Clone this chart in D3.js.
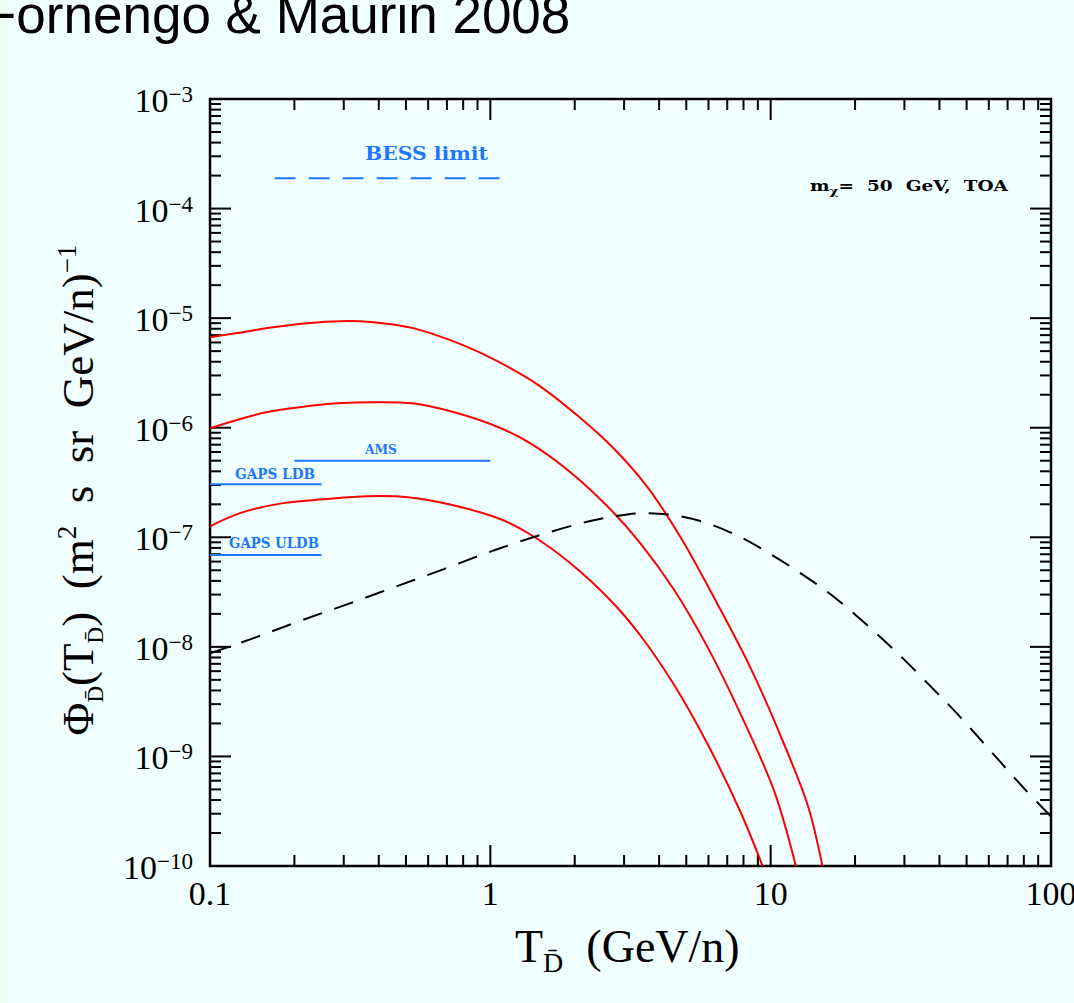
<!DOCTYPE html>
<html>
<head>
<meta charset="utf-8">
<script src="https://cdn.jsdelivr.net/npm/d3@7"></script>
<style>
  html, body { margin: 0; padding: 0; background: #f0ffff; overflow: hidden; }
  svg { display: block; }
  text { white-space: pre; }
</style>
</head>
<body>
<div id="chart"></div>
<script>
// antideuteron flux, m_chi = 50 GeV (three propagation cases) -- T in GeV/n, flux in (m2 s sr GeV/n)^-1
const highT = [0.1, 0.131, 0.160, 0.222, 0.291, 0.382, 0.531, 0.719, 0.944, 1.47, 2.10, 2.75, 3.64, 4.77, 6.47, 8.49, 11.1, 13.6, 15.3];
const highFlux = [6.7e-6, 7.45e-6, 8.11e-6, 9.0e-6, 9.39e-6, 9.19e-6, 8.11e-6, 6.3e-6, 4.69e-6, 2.49e-6, 1.22e-6, 6.5e-7, 2.86e-7, 1.0e-7, 2.44e-8, 6.37e-9, 1.34e-9, 3.49e-10, 1e-10];

const medT = [0.1, 0.131, 0.160, 0.209, 0.286, 0.388, 0.526, 0.738, 1.09, 1.39, 1.93, 2.68, 3.43, 4.51, 5.96, 7.82, 10.3, 12.3];
const medFlux = [9.89e-7, 1.22e-6, 1.39e-6, 1.54e-6, 1.67e-6, 1.71e-6, 1.67e-6, 1.39e-6, 9.89e-7, 7.21e-7, 3.93e-7, 1.8e-7, 8.81e-8, 3.35e-8, 9.89e-9, 2.42e-9, 4.8e-10, 1e-10];

const lowT = [0.1, 0.128, 0.182, 0.254, 0.364, 0.509, 0.738, 1.09, 1.39, 1.93, 2.75, 3.43, 4.51, 5.96, 7.82, 9.36];
const lowFlux = [1.26e-7, 1.66e-7, 2.05e-7, 2.22e-7, 2.37e-7, 2.32e-7, 1.96e-7, 1.46e-7, 1.06e-7, 5.79e-8, 2.49e-8, 1.27e-8, 4.55e-9, 1.29e-9, 3.08e-10, 1e-10];

// secondary (background) flux, dashed
const bgT = [0.1, 0.139, 0.182, 0.241, 0.308, 0.405, 0.531, 0.679, 0.900, 1.07, 1.42, 2.10, 2.75, 3.43, 4.51, 5.96, 7.82, 10, 12.8, 16.0, 19.8, 24.7, 29.9, 37.2, 45.1, 54.8, 66.2, 80.2, 100];
const bgFlux = [8.73e-9, 1.17e-8, 1.51e-8, 1.96e-8, 2.44e-8, 3.15e-8, 4.05e-8, 5.1e-8, 6.7e-8, 7.85e-8, 1.0e-7, 1.34e-7, 1.55e-7, 1.66e-7, 1.59e-7, 1.34e-7, 1.0e-7, 7.0e-8, 4.69e-8, 3.15e-8, 2.02e-8, 1.22e-8, 7.69e-9, 4.36e-9, 2.63e-9, 1.52e-9, 8.81e-10, 5.1e-10, 2.83e-10];

// experimental sensitivities
const expNames = ["AMS", "GAPS LDB", "GAPS ULDB"];
const expTmin = [0.2, 0.1, 0.1];
const expTmax = [1.0, 0.25, 0.25];
const expFlux = [5.0e-7, 3.05e-7, 6.9e-8];
const bessTmin = 0.17, bessTmax = 1.1, bessFlux = 1.89e-4;

const xTickLabels = ["0.1", "1", "10", "100"];

const W = 1074, H = 1003;
const plot = { left: 210, right: 1051, top: 99, bottom: 866 };
const blue = "#1e78ff";
const serif = "'Liberation Serif', 'Times New Roman', serif";
const slab = "'DejaVu Serif', serif";

const svg = d3.select("#chart").append("svg")
  .attr("width", W)
  .attr("height", H);

svg.append("rect").attr("width", W).attr("height", H).attr("fill", "#f0ffff");
svg.append("rect").attr("width", 8).attr("height", H).attr("fill", "#eefdf1");

svg.append("text")
  .attr("x", -16)
  .attr("y", 33)
  .attr("font-family", "'Liberation Sans', Arial, sans-serif")
  .attr("font-size", 53)
  .attr("fill", "#000")
  .text("Fornengo & Maurin 2008");

const x = d3.scaleLog().domain([0.1, 100]).range([plot.left, plot.right]);
const y = d3.scaleLog().domain([1e-10, 1e-3]).range([plot.bottom, plot.top]);

const isMajor = v => Math.abs(Math.log10(v) - Math.round(Math.log10(v))) < 1e-6;

// ticks on all four sides
const ticks = svg.append("g").attr("stroke", "#000").attr("stroke-width", 2);
x.ticks().forEach(t => {
  const len = isMajor(t) ? 21 : 11;
  ticks.append("line").attr("x1", x(t)).attr("x2", x(t)).attr("y1", plot.bottom).attr("y2", plot.bottom - len);
  ticks.append("line").attr("x1", x(t)).attr("x2", x(t)).attr("y1", plot.top).attr("y2", plot.top + len);
});
y.ticks().forEach(t => {
  const len = isMajor(t) ? 21 : 11;
  ticks.append("line").attr("y1", y(t)).attr("y2", y(t)).attr("x1", plot.left).attr("x2", plot.left + len);
  ticks.append("line").attr("y1", y(t)).attr("y2", y(t)).attr("x1", plot.right).attr("x2", plot.right - len);
});

svg.append("rect")
  .attr("x", plot.left).attr("y", plot.top)
  .attr("width", plot.right - plot.left).attr("height", plot.bottom - plot.top)
  .attr("fill", "none").attr("stroke", "#000").attr("stroke-width", 2.5);

// y tick labels 10^-k
y.ticks().filter(isMajor).forEach(t => {
  const e = Math.round(Math.log10(t));
  const txt = svg.append("text")
    .attr("x", plot.left - 17)
    .attr("y", y(t) + 13)
    .attr("text-anchor", "end")
    .attr("font-family", serif)
    .attr("font-size", 34);
  txt.append("tspan").text("10");
  txt.append("tspan").attr("dy", -10).attr("font-size", 23).text("\u2212" + (-e));
});

// x tick labels
xTickLabels.forEach(s => {
  svg.append("text")
    .attr("x", x(+s))
    .attr("y", 905)
    .attr("text-anchor", "middle")
    .attr("font-family", serif)
    .attr("font-size", 34)
    .text(s);
});

// axis titles
const xl = svg.append("text")
  .attr("x", 515).attr("y", 962)
  .attr("font-family", serif).attr("font-size", 46);
xl.append("tspan").text("T");
xl.append("tspan").attr("dy", 10).attr("font-size", 28).text("D\u0304");
xl.append("tspan").attr("dy", -10).text("  (GeV/n)");

const yl = svg.append("text")
  .attr("transform", "translate(93,490) rotate(-90)")
  .attr("text-anchor", "middle")
  .attr("font-family", serif).attr("font-size", 45);
yl.append("tspan").text("\u03a6");
yl.append("tspan").attr("dy", 10).attr("font-size", 23).text("D\u0304");
yl.append("tspan").attr("dy", -10).text("(T");
yl.append("tspan").attr("dy", 10).attr("font-size", 23).text("D\u0304");
yl.append("tspan").attr("dy", -10).text(")  (m");
yl.append("tspan").attr("dy", -17).attr("font-size", 27).text("2");
yl.append("tspan").attr("dy", 17).text("  s  sr  GeV/n)");
yl.append("tspan").attr("dy", -17).attr("font-size", 27).text("\u22121");

// curves
svg.append("clipPath").attr("id", "clip")
  .append("rect")
  .attr("x", plot.left).attr("y", plot.top)
  .attr("width", plot.right - plot.left).attr("height", plot.bottom - plot.top);

const line = d3.line()
  .x(d => x(d[0]))
  .y(d => y(d[1]))
  .curve(d3.curveCatmullRom.alpha(0.5));

const curves = svg.append("g").attr("clip-path", "url(#clip)").attr("fill", "none");
[[highT, highFlux], [medT, medFlux], [lowT, lowFlux]].forEach(([ts, fs]) => {
  curves.append("path")
    .attr("d", line(d3.zip(ts, fs)))
    .attr("stroke", "#ff0000")
    .attr("stroke-width", 2);
});
curves.append("path")
  .attr("d", line(d3.zip(bgT, bgFlux)))
  .attr("stroke", "#000")
  .attr("stroke-width", 2)
  .attr("stroke-dasharray", "20,13");

// experiments
expNames.forEach((name, i) => {
  svg.append("line")
    .attr("x1", x(expTmin[i])).attr("x2", x(expTmax[i]))
    .attr("y1", y(expFlux[i])).attr("y2", y(expFlux[i]))
    .attr("stroke", blue).attr("stroke-width", 2);
});
const expLabels = [
  { cx: 381, dy: -7, size: 13, len: 32 },
  { cx: 275, dy: -5, size: 14, len: 80 },
  { cx: 274, dy: -7, size: 15, len: 90 }
];
expNames.forEach((name, i) => {
  const o = expLabels[i];
  svg.append("text")
    .attr("x", o.cx - o.len / 2)
    .attr("y", y(expFlux[i]) + o.dy)
    .attr("font-family", slab).attr("font-weight", "bold")
    .attr("font-size", o.size).attr("fill", blue)
    .attr("textLength", o.len).attr("lengthAdjust", "spacingAndGlyphs")
    .text(name);
});

svg.append("line")
  .attr("x1", x(bessTmin)).attr("x2", x(bessTmax))
  .attr("y1", y(bessFlux)).attr("y2", y(bessFlux))
  .attr("stroke", blue).attr("stroke-width", 2)
  .attr("stroke-dasharray", "21,13");
svg.append("text")
  .attr("x", 365).attr("y", 160)
  .attr("font-family", slab).attr("font-weight", "bold")
  .attr("font-size", 19).attr("fill", blue)
  .attr("textLength", 123).attr("lengthAdjust", "spacingAndGlyphs")
  .text("BESS limit");

const mt = svg.append("text")
  .attr("x", 810).attr("y", 191)
  .attr("font-family", slab).attr("font-weight", "bold")
  .attr("font-size", 15).attr("fill", "#000")
  .attr("textLength", 198).attr("lengthAdjust", "spacingAndGlyphs");
mt.append("tspan").text("m");
mt.append("tspan").attr("dy", 4).attr("font-size", 11).text("\u03c7");
mt.append("tspan").attr("dy", -4).text("=  50  GeV,  TOA");
</script>
</body>
</html>
